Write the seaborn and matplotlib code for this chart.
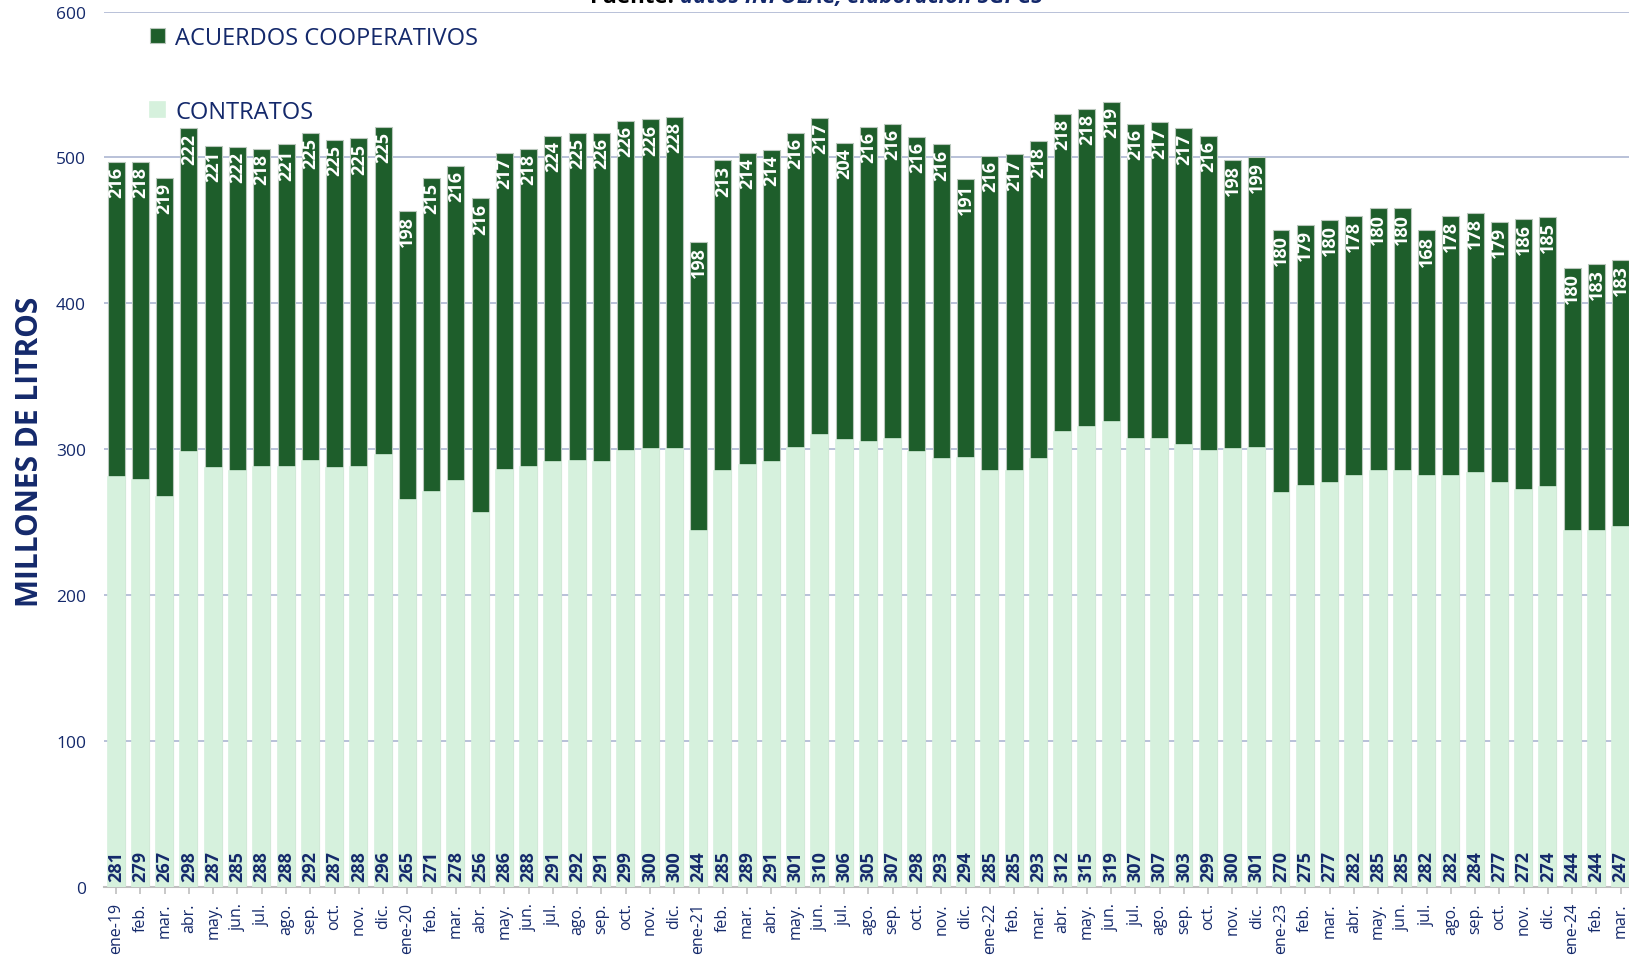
import matplotlib
matplotlib.use("Agg")
import matplotlib.pyplot as plt
import seaborn as sns
import pandas as pd

# Monthly milk volumes (million litres) by type of supply agreement
months = (
    ["ene-19", "feb.", "mar.", "abr.", "may.", "jun.", "jul.", "ago.", "sep.", "oct.", "nov.", "dic."]
    + ["ene-20", "feb.", "mar.", "abr.", "may.", "jun.", "jul.", "ago.", "sep.", "oct.", "nov.", "dic."]
    + ["ene-21", "feb.", "mar.", "abr.", "may.", "jun.", "jul.", "ago.", "sep.", "oct.", "nov.", "dic."]
    + ["ene-22", "feb.", "mar.", "abr.", "may.", "jun.", "jul.", "ago.", "sep.", "oct.", "nov.", "dic."]
    + ["ene-23", "feb.", "mar.", "abr.", "may.", "jun.", "jul.", "ago.", "sep.", "oct.", "nov.", "dic."]
    + ["ene-24", "feb.", "mar."]
)

contratos = [
    281, 279, 267, 298, 287, 285, 288, 288, 292, 287, 288, 296,
    265, 271, 278, 256, 286, 288, 291, 292, 291, 299, 300, 300,
    244, 285, 289, 291, 301, 310, 306, 305, 307, 298, 293, 294,
    285, 285, 293, 312, 315, 319, 307, 307, 303, 299, 300, 301,
    270, 275, 277, 282, 285, 285, 282, 282, 284, 277, 272, 274,
    244, 244, 247,
]

acuerdos = [
    216, 218, 219, 222, 221, 222, 218, 221, 225, 225, 225, 225,
    198, 215, 216, 216, 217, 218, 224, 225, 226, 226, 226, 228,
    198, 213, 214, 214, 216, 217, 204, 216, 216, 216, 216, 191,
    216, 217, 218, 218, 218, 219, 216, 217, 217, 216, 198, 199,
    180, 179, 180, 178, 180, 180, 168, 178, 178, 179, 186, 185,
    180, 183, 183,
]

y_ticks = [0, 100, 200, 300, 400, 500, 600]

DARK = "#1E5E2B"
LIGHT = "#D6F1DD"
NAVY = "#14296B"

sns.set_theme(style="white")
plt.rcParams["font.family"] = ["Open Sans", "DejaVu Sans"]

uid = [f"{i:02d}" for i in range(len(months))]
df = pd.DataFrame({
    "mes": uid,
    "contratos": contratos,
    "acuerdos": acuerdos,
})
df["total"] = df["contratos"] + df["acuerdos"]

fig = plt.figure(figsize=(16.29, 9.62), dpi=100)
ax = fig.add_axes([104 / 1629, 74 / 962, 1 - 104 / 1629, (888 - 12.5) / 962])

# stacked bars: full height in dark green, contracts overlaid in light green
sns.barplot(data=df, x="mes", y="total", order=uid, color=DARK, width=0.70,
            saturation=1, edgecolor="#B9C7BC", linewidth=0.8,
            label="ACUERDOS COOPERATIVOS", ax=ax, zorder=2)
sns.barplot(data=df, x="mes", y="contratos", order=uid, color=LIGHT, width=0.70,
            saturation=1, edgecolor=LIGHT, linewidth=1.2, label="CONTRATOS",
            ax=ax, zorder=3)

# value labels
for i, (c, a) in enumerate(zip(contratos, acuerdos)):
    ax.annotate(str(a), xy=(i, c + a), xytext=(0, -3), textcoords="offset points",
                rotation=90, ha="center", va="top", color="white",
                fontsize=13, fontweight="bold", zorder=5, clip_on=True)
    ax.annotate(str(c), xy=(i, 0), xytext=(0, 4), textcoords="offset points",
                rotation=90, ha="center", va="bottom", color=NAVY,
                fontsize=13, fontweight="bold", zorder=5, clip_on=True)

ax.set_ylim(0, 600)
ax.set_xlim(-0.5, 62.34)
ax.set_yticks(y_ticks)
ax.set_yticklabels([str(v) for v in y_ticks], color=NAVY, fontsize=12.5)
ax.set_xticks(range(len(months)))
ax.set_xticklabels(months, rotation=90, color=NAVY, fontsize=11.5)
ax.tick_params(axis="y", length=0, pad=13)
ax.tick_params(axis="x", length=5, width=1.2, color="#BFBFBF", pad=6, bottom=True)

ax.yaxis.grid(True, color="#B3BCD6", linewidth=1.3, zorder=0)
ax.xaxis.grid(False)
ax.set_axisbelow(True)
for side in ("left", "right", "top"):
    ax.spines[side].set_visible(False)
ax.spines["bottom"].set_color("#BFBFBF")
ax.spines["bottom"].set_linewidth(1.5)

ax.set_xlabel("")
ax.set_ylabel("")
fig.text(30 / 1629, 1 - 452 / 962, "MILLONES DE LITROS", rotation=90, ha="center",
         va="center", color=NAVY, fontsize=21.5, fontweight="bold")

leg = ax.legend(loc="upper left", bbox_to_anchor=(150 / 1629, 1 - 27 / 962),
                bbox_transform=fig.transFigure, frameon=False, fontsize=17,
                handlelength=0.62, handleheight=0.62, handletextpad=0.45,
                labelspacing=2.1, borderpad=0, borderaxespad=0)
for t in leg.get_texts():
    t.set_color(NAVY)

# source line along the top edge
src = fig.text(590 / 1629, 1 - 3 / 962, "Fuente: ", ha="left", va="baseline",
               color="black", fontsize=16, fontweight="bold")
fig.canvas.draw()
bb = src.get_window_extent()
fig.text(bb.x1 / fig.bbox.width, 1 - 3 / 962, "datos INFOLAC, elaboración SGPCS",
         ha="left", va="baseline", color=NAVY, fontsize=16, fontweight="bold",
         style="italic")

fig.savefig("out.png", dpi=100)
